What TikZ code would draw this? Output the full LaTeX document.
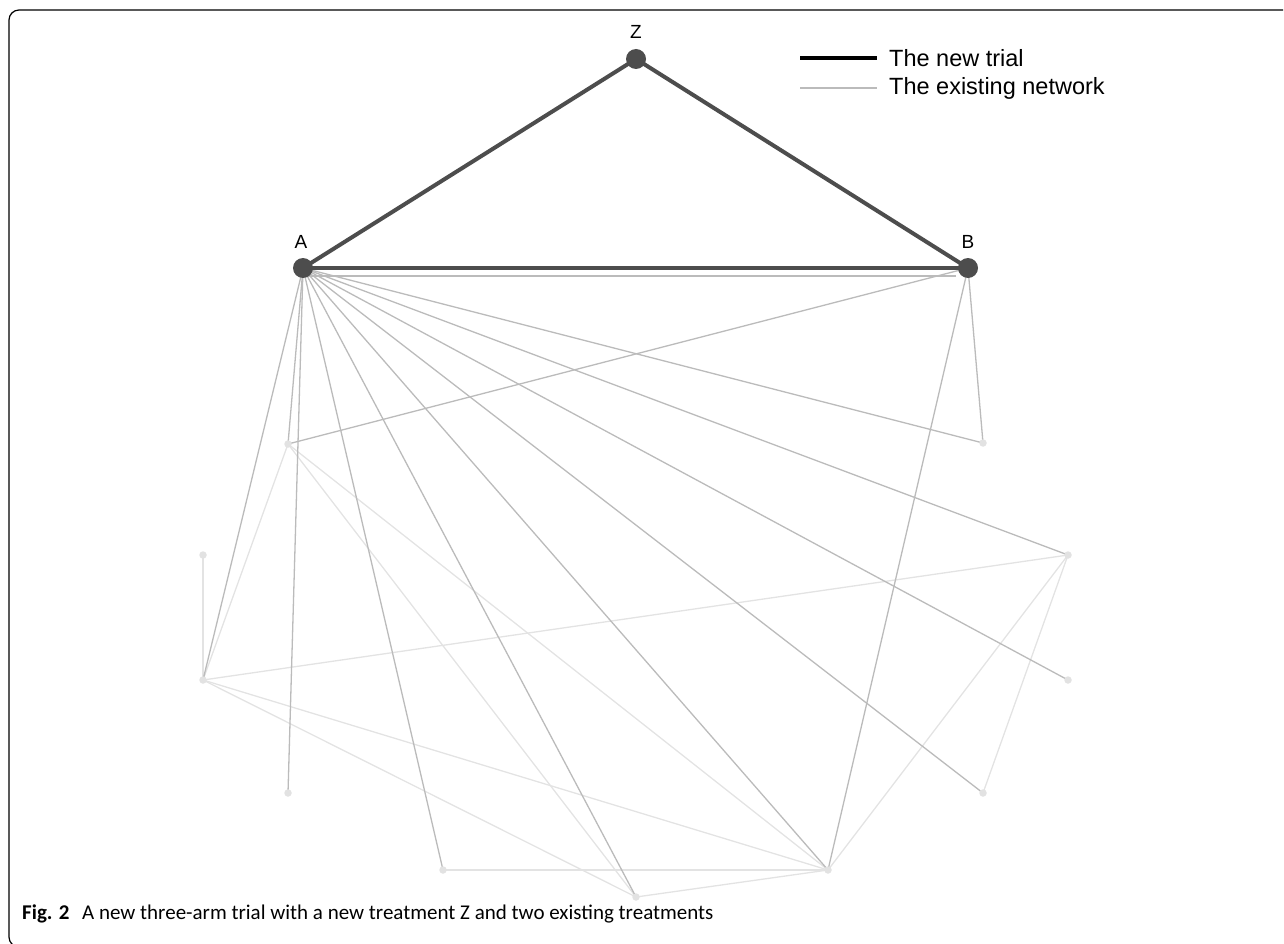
\documentclass[tikz,border=0pt]{standalone}
\usepackage{fontspec}
\setmainfont{Liberation Sans}
\newfontfamily\capfont{Carlito}
\definecolor{darkn}{HTML}{4D4D4D}
\definecolor{midg}{HTML}{BBBBBB}
\definecolor{lightg}{HTML}{E3E3E3}
\definecolor{smalln}{HTML}{E2E2E2}
\tikzset{
  bignode/.style={circle,fill=darkn,inner sep=0pt,minimum size=20pt},
  smallnode/.style={circle,fill=smalln,inner sep=0pt,minimum size=7.5pt},
  newedge/.style={draw=darkn,line width=4pt},
  midedge/.style={draw=midg,line width=1.3pt},
  lightedge/.style={draw=lightg,line width=1.3pt},
  lbl/.style={font=\fontsize{19}{22}\selectfont,text=black},
  legtext/.style={font=\fontsize{23.5}{27}\selectfont,anchor=west,text=black,inner sep=0pt},
}
\begin{document}
\begin{tikzpicture}[x=1pt,y=-1pt]
\useasboundingbox (0,0) rectangle (1284,944);
% frame
\draw[line width=1.2pt,black,rounded corners=10pt] (1283,10) -- (9,10) -- (9,947) -- (60,947);
% node positions
\coordinate (Z) at (636,59);
\coordinate (A) at (303,268);
\coordinate (B) at (968,268);
\coordinate (n1) at (288,444);
\coordinate (n2) at (983,443);
\coordinate (n3) at (203,555);
\coordinate (n4) at (1068,555);
\coordinate (n5) at (203,680);
\coordinate (n6) at (1068,680);
\coordinate (n7) at (288,793);
\coordinate (n8) at (983,793);
\coordinate (n9) at (443,870);
\coordinate (n10) at (828,870);
\coordinate (n11) at (636,897);
% edges
\path[lightedge] (n3) -- (n5);
\path[lightedge] (n1) -- (n5);
\path[lightedge] (n1) -- (n11);
\path[lightedge] (n1) -- (n10);
\path[lightedge] (n5) -- (n4);
\path[lightedge] (n5) -- (n10);
\path[lightedge] (n5) -- (n11);
\path[lightedge] (n9) -- (n10);
\path[lightedge] (n11) -- (n10);
\path[lightedge] (n4) -- (n10);
\path[lightedge] (n4) -- (n8);
\foreach \t in {n1,n2,n4,n5,n6,n7,n8,n9,n10,n11}{
  \path[midedge] (A) -- (\t);
}
\path[midedge] (B) -- (n1);
\path[midedge] (B) -- (n2);
\path[midedge] (B) -- (n10);
\path[midedge] ([yshift=-8pt]A) -- ([shift={(-12pt,-8pt)}]B);
\path[newedge] (Z) -- (A);
\path[newedge] (Z) -- (B);
\path[newedge] (A) -- (B);
% nodes
\foreach \n in {Z,A,B}{
  \node[bignode] (\n node) at (\n) {};
}
\foreach \n in {n1,n2,n3,n4,n5,n6,n7,n8,n9,n10,n11}{
  \node[smallnode] (\n node) at (\n) {};
}
% labels
\node[lbl] (lZ) at (636,32) {Z};
\node[lbl] (lA) at (301,242) {A};
\node[lbl] (lB) at (968,242) {B};
% legend
\coordinate (l1a) at (800,58);
\coordinate (l1b) at (877,58);
\coordinate (l2a) at (800,88);
\coordinate (l2b) at (877,88);
\draw[black,line width=4.5pt] (l1a) -- (l1b);
\draw[midg,line width=1.3pt] (l2a) -- (l2b);
\node[legtext] (t1) at (889,58) {The new trial};
\node[legtext] (t2) at (889,88) {The existing network};
% caption
\node[anchor=base west,inner sep=0pt,font=\capfont\fontsize{21}{25}\selectfont] (cap) at (22,919) {\textbf{Fig. 2}\hspace{0.6em}A new three-arm trial with a new treatment Z and two existing treatments};
\end{tikzpicture}
\end{document}
